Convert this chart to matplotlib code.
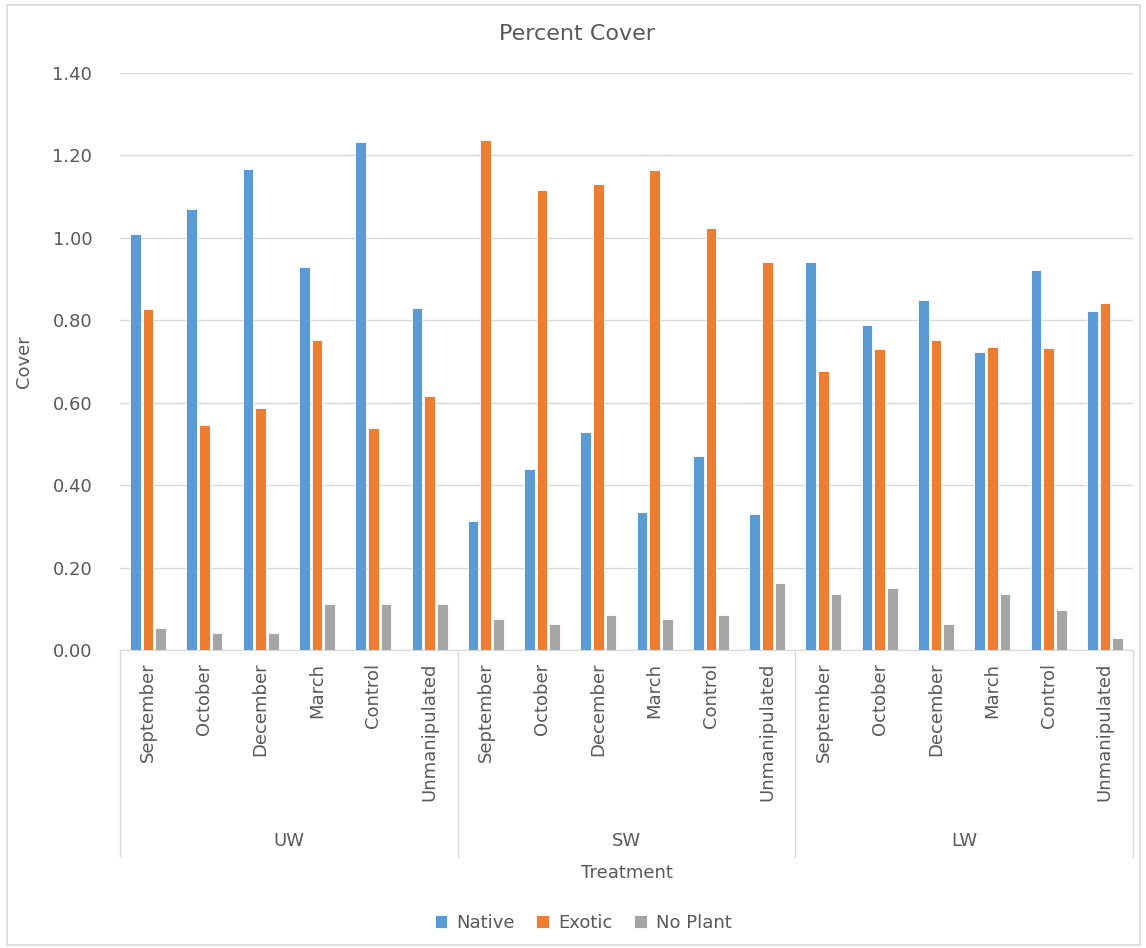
import numpy as np
import matplotlib.pyplot as plt
from matplotlib.patches import Rectangle

# cover data per site and treatment
sites = ["UW", "SW", "LW"]
treatments = ["September", "October", "December", "March", "Control", "Unmanipulated"]

native = [1.009, 1.071, 1.167, 0.930, 1.233, 0.830,
          0.314, 0.440, 0.528, 0.336, 0.471, 0.330,
          0.942, 0.789, 0.849, 0.724, 0.922, 0.822]
exotic = [0.828, 0.546, 0.588, 0.752, 0.538, 0.616,
          1.238, 1.117, 1.131, 1.164, 1.023, 0.941,
          0.677, 0.730, 0.752, 0.734, 0.733, 0.843]
no_plant = [0.053, 0.042, 0.042, 0.112, 0.112, 0.112,
            0.076, 0.063, 0.086, 0.076, 0.086, 0.163,
            0.135, 0.150, 0.062, 0.135, 0.098, 0.030]

series = [("Native", native, "#5B9BD5"),
          ("Exotic", exotic, "#ED7D31"),
          ("No Plant", no_plant, "#A5A5A5")]

txt = "#595959"
grid = "#D9D9D9"
plt.rcParams["font.family"] = ["DejaVu Sans"]

W, H = 1146, 948
fig = plt.figure(figsize=(W / 100, H / 100), dpi=100)
ax = fig.add_axes([120 / W, 1 - 650 / H, 1013 / W, 577 / H])

n = len(sites) * len(treatments)
x = np.arange(n)
bw = 0.19
pitch = 0.225
for k, (name, vals, col) in enumerate(series):
    ax.bar(x + (k - 1) * pitch, vals, width=bw, color=col, label=name,
           edgecolor="white", linewidth=0.6, zorder=3)

ax.set_xlim(-0.5, n - 0.5)
ax.set_ylim(0, 1.4)
ax.set_yticks(np.arange(0, 1.41, 0.2))
ax.set_yticklabels([f"{v:.2f}" for v in np.arange(0, 1.41, 0.2)])
ax.yaxis.grid(True, color=grid, linewidth=1, zorder=0)
ax.set_axisbelow(True)
for s in ["top", "right", "left"]:
    ax.spines[s].set_visible(False)
ax.spines["bottom"].set_color(grid)
ax.tick_params(axis="both", length=0, colors=txt, labelsize=13)
ax.tick_params(axis="y", pad=20)
ax.tick_params(axis="x", pad=9)
ax.set_xticks(x)
ax.set_xticklabels(treatments * len(sites), rotation=90, va="top")

# group separators and site labels below the axis
tr = ax.get_xaxis_transform()
for b in [-0.5, 5.5, 11.5, 17.5]:
    ax.plot([b, b], [0, -207 / 577], color=grid, lw=1, transform=tr, clip_on=False)
for i, s in enumerate(sites):
    ax.text(i * 6 + 2.5, -191 / 577, s, transform=tr, ha="center", va="center",
            fontsize=13, color=txt)

ax.set_ylabel("Cover", fontsize=13, color=txt, labelpad=14)
fig.text(577 / W, 1 - 34 / H, "Percent Cover", ha="center", va="center",
         fontsize=16, color=txt)
fig.text(627 / W, 1 - 873 / H, "Treatment", ha="center", va="center",
         fontsize=13, color=txt)

fig.legend(loc="center", bbox_to_anchor=(583 / W, 1 - 923 / H), ncol=3,
           frameon=False, fontsize=13, labelcolor=txt, handlelength=0.7,
           handleheight=0.7, handletextpad=0.5, columnspacing=1.2)

fig.patches.append(Rectangle((7 / W, 3 / H), 1133 / W, 940 / H, transform=fig.transFigure,
                             fill=False, edgecolor=grid, linewidth=1.2))

fig.savefig("out.png", dpi=100)
